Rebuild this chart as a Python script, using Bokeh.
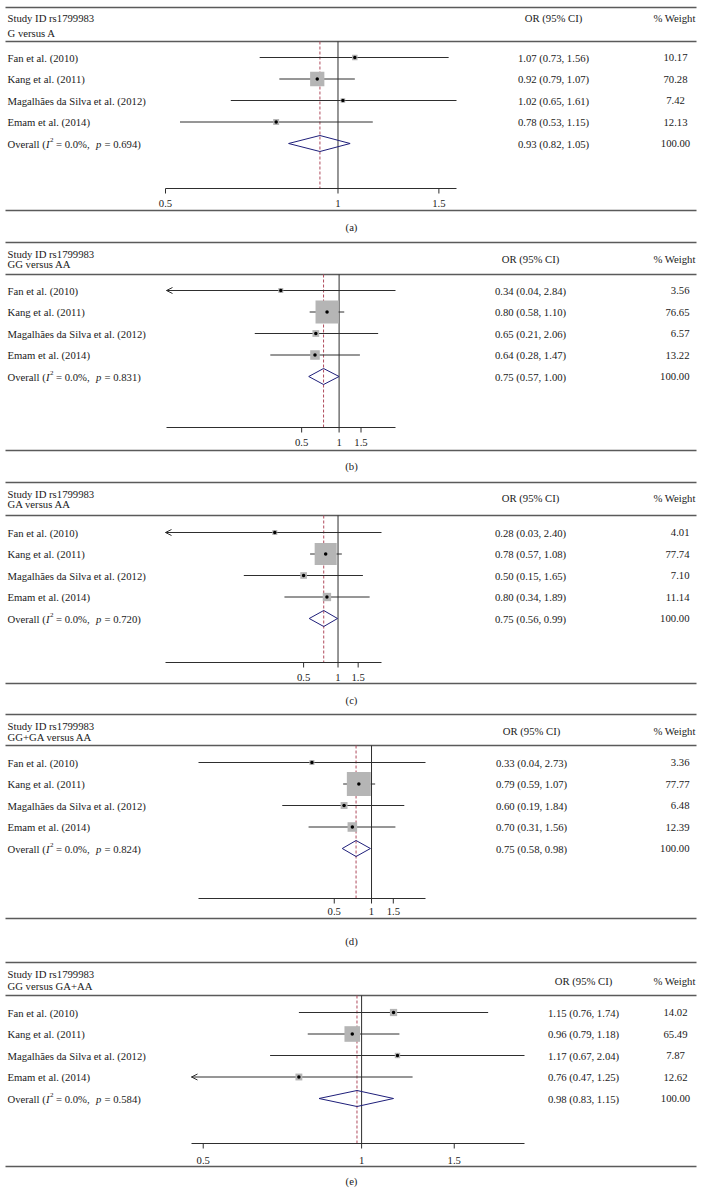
import math
from bokeh.plotting import figure
from bokeh.models import Range1d, LogScale, Arrow, OpenHead
from bokeh.core.properties import value
from bokeh.embed import file_html
from bokeh.resources import INLINE

# ---------------- data ----------------
studies = ["Fan et al. (2010)", "Kang et al. (2011)",
           "Magalhães da Silva et al. (2012)", "Emam et al. (2014)"]
comparisons = ["G versus A", "GG versus AA", "GA versus AA",
               "GG+GA versus AA", "GG versus GA+AA"]
captions = ["(a)", "(b)", "(c)", "(d)", "(e)"]

or_a = [1.07, 0.92, 1.02, 0.78]
lo_a = [0.73, 0.79, 0.65, 0.53]
hi_a = [1.56, 1.07, 1.61, 1.15]
w_a = [10.17, 70.28, 7.42, 12.13]

or_b = [0.34, 0.80, 0.65, 0.64]
lo_b = [0.04, 0.58, 0.21, 0.28]
hi_b = [2.84, 1.10, 2.06, 1.47]
w_b = [3.56, 76.65, 6.57, 13.22]

or_c = [0.28, 0.78, 0.50, 0.80]
lo_c = [0.03, 0.57, 0.15, 0.34]
hi_c = [2.40, 1.08, 1.65, 1.89]
w_c = [4.01, 77.74, 7.10, 11.14]

or_d = [0.33, 0.79, 0.60, 0.70]
lo_d = [0.04, 0.59, 0.19, 0.31]
hi_d = [2.73, 1.07, 1.84, 1.56]
w_d = [3.36, 77.77, 6.48, 12.39]

or_e = [1.15, 0.96, 1.17, 0.76]
lo_e = [0.76, 0.79, 0.67, 0.47]
hi_e = [1.74, 1.18, 2.04, 1.25]
w_e = [14.02, 65.49, 7.87, 12.62]

overall_or = [0.93, 0.75, 0.75, 0.75, 0.98]
overall_lo = [0.82, 0.57, 0.56, 0.58, 0.83]
overall_hi = [1.05, 1.00, 0.99, 0.98, 1.15]
overall_i2 = ["0.0%", "0.0%", "0.0%", "0.0%", "0.0%"]
overall_p = ["0.694", "0.831", "0.720", "0.824", "0.584"]

axis_lo = [0.5, 0.041, 0.031, 0.04, 0.475]
axis_hi = [1.61, 2.84, 2.40, 2.73, 2.04]
tick_vals = [0.5, 1, 1.5]
tick_labels = ["0.5", "1", "1.5"]

ORS = [or_a, or_b, or_c, or_d, or_e]
LOS = [lo_a, lo_b, lo_c, lo_d, lo_e]
HIS = [hi_a, hi_b, hi_c, hi_d, hi_e]
WS = [w_a, w_b, w_c, w_d, w_e]

# ---------------- layout (page pixels) ----------------
W, H = 703, 1203
TOP = [7, 242, 482, 714, 962]
HEAD1 = [10, 11, 11, 11, 11]
HEAD2 = [25, 21, 21, 22, 23]
HEADC = [10, 16, 15, 16, 18]
RULE2 = [34, 32, 33, 31, 33]
ROW0 = [50, 48, 50, 48, 50]
ROWSTEP = 21.5
AXIS_Y = [181, 185, 180, 184, 181]
LAB_Y = [196, 200, 195, 197, 198]
BOT = [203, 208, 201, 204, 204]
CAP = [219, 223, 217, 226, 218]
GX0 = [165, 166, 165, 198, 191]
GX1 = [456, 395, 381, 425, 524]
OR_X = [553, 530, 530, 531, 583]
WT_X = [675, 689, 689, 689, 675]
WT_ALIGN = ["center", "right", "right", "right", "center"]
WH_X = 674
TXT_X = 7
OV_DX = [0, 38.5, 42.6, 48.5, 88.5, 97]   # pieces of the "Overall" label
RULE_X0, RULE_X1 = 5, 696
CAP_X = 351
BOX_S = [1.70, 2.63, 2.5, 2.72, 1.93]
DIA_H = 8

FONT = value("Liberation Serif")
FS = "10.7px"
TXT = "#1a1a1a"
RULE_C = "#5a5a5a"
LINE_C = "#2e2e2e"
BOX_C = "#b5b5b5"
DASH_C = "#b04a5c"
DIA_C = "#1f1f7a"

p = figure(width=W, height=H, output_backend="svg", toolbar_location=None,
           x_range=Range1d(0, W), y_range=Range1d(H, 0), min_border=0,
           x_axis_location=None, y_axis_location=None)
p.grid.visible = False
p.outline_line_color = None
p.background_fill_color = "white"
p.border_fill_color = "white"

names = ["pa", "pb", "pc", "pd", "pe"]
xr, xs = {}, {}
for i, n in enumerate(names):
    lo, hi = axis_lo[i], axis_hi[i]
    k = (GX1[i] - GX0[i]) / (math.log(hi) - math.log(lo))
    xr[n] = Range1d(math.exp(math.log(lo) - GX0[i] / k),
                    math.exp(math.log(hi) + (W - GX1[i]) / k))
    xs[n] = LogScale()
p.extra_x_ranges = xr
p.extra_x_scales = xs


def txt(x, y, t, align="left", size=FS, style="normal", **kw):
    p.text(x=x, y=y, text=t, text_font=FONT, text_font_size=size,
           text_font_style=style, text_color=TXT, text_baseline="middle",
           text_align=align, **kw)


for i, n in enumerate(names):
    top = TOP[i]
    rows = [top + ROW0[i] + ROWSTEP * j for j in range(5)]
    study_rows = rows[:4]
    ov_y = rows[4]

    # rules
    p.segment(x0=[RULE_X0] * 3, x1=[RULE_X1] * 3,
              y0=[top, top + RULE2[i], top + BOT[i]],
              y1=[top, top + RULE2[i], top + BOT[i]],
              line_color=RULE_C, line_width=1.5)

    # header texts
    txt([TXT_X], [top + HEAD1[i]], ["Study ID rs1799983"])
    txt([TXT_X], [top + HEAD2[i]], [comparisons[i]])
    txt([OR_X[i]], [top + HEADC[i]], ["OR (95% CI)"], align="center")
    txt([WH_X], [top + HEADC[i]], ["% Weight"], align="center")

    # study labels
    txt([TXT_X] * 4, study_rows, studies)
    # overall label: Overall (I² = 0.0%, p = 0.694) with italic I and p
    txt([TXT_X + OV_DX[0]], [ov_y], ["Overall ("])
    txt([TXT_X + OV_DX[1]], [ov_y], ["I"], style="italic")
    txt([TXT_X + OV_DX[2]], [ov_y], ["2"], size="7px", y_offset=-4)
    txt([TXT_X + OV_DX[3]], [ov_y], ["= %s," % overall_i2[i]])
    txt([TXT_X + OV_DX[4]], [ov_y], ["p"], style="italic")
    txt([TXT_X + OV_DX[5]], [ov_y], ["= %s)" % overall_p[i]])

    ors = ORS[i] + [overall_or[i]]
    los = LOS[i] + [overall_lo[i]]
    his = HIS[i] + [overall_hi[i]]
    ci_txt = ["%.2f (%.2f, %.2f)" % (a, b, c) for a, b, c in zip(ors, los, his)]
    txt([OR_X[i]] * 5, rows, ci_txt, align="center")
    wts = ["%.2f" % w for w in WS[i]] + ["100.00"]
    txt([WT_X[i]] * 5, rows, wts, align=WT_ALIGN[i])

    lo_ax, hi_ax = axis_lo[i], axis_hi[i]
    # reference lines
    p.segment(x0=[1], x1=[1], y0=[top + RULE2[i]], y1=[top + AXIS_Y[i]],
              x_range_name=n, line_color=LINE_C, line_width=1)
    p.segment(x0=[overall_or[i]], x1=[overall_or[i]], y0=[top + RULE2[i]],
              y1=[top + AXIS_Y[i]], x_range_name=n, line_color=DASH_C,
              line_width=1, line_dash="3 2")

    # CI lines
    x0 = [max(v, lo_ax) for v in LOS[i]]
    x1 = [min(v, hi_ax) for v in HIS[i]]
    p.segment(x0=x0, x1=x1, y0=study_rows, y1=study_rows, x_range_name=n,
              line_color=LINE_C, line_width=1)
    for j in range(4):
        if LOS[i][j] < lo_ax:
            p.add_layout(Arrow(end=OpenHead(size=6, line_width=1, line_color=LINE_C),
                               x_start=x1[j], y_start=study_rows[j],
                               x_end=lo_ax, y_end=study_rows[j],
                               x_range_name=n, line_alpha=0))

    # weight boxes and point estimates
    sizes = [BOX_S[i] * math.sqrt(w) for w in WS[i]]
    p.scatter(x=ORS[i], y=study_rows, size=sizes, marker="square",
              x_range_name=n, fill_color=BOX_C, line_color=None)
    p.scatter(x=ORS[i], y=study_rows, size=3.5, marker="circle",
              x_range_name=n, fill_color="black", line_color=None)

    # pooled diamond
    p.patch(x=[overall_lo[i], overall_or[i], overall_hi[i], overall_or[i]],
            y=[ov_y, ov_y - DIA_H, ov_y, ov_y + DIA_H], x_range_name=n,
            fill_color="white", fill_alpha=0, line_color=DIA_C, line_width=1)

    # axis
    ay = top + AXIS_Y[i]
    p.segment(x0=[lo_ax], x1=[hi_ax], y0=[ay], y1=[ay], x_range_name=n,
              line_color=LINE_C, line_width=1)
    p.segment(x0=tick_vals, x1=tick_vals, y0=[ay] * 3, y1=[ay + 5] * 3,
              x_range_name=n, line_color=LINE_C, line_width=1)
    p.text(x=tick_vals, y=[top + LAB_Y[i]] * 3, text=tick_labels,
           x_range_name=n, text_font=FONT, text_font_size=FS, text_color=TXT,
           text_baseline="middle", text_align="center")

    # caption
    txt([CAP_X], [top + CAP[i]], [captions[i]], align="center")

open("out.html", "w").write(file_html(p, INLINE))
